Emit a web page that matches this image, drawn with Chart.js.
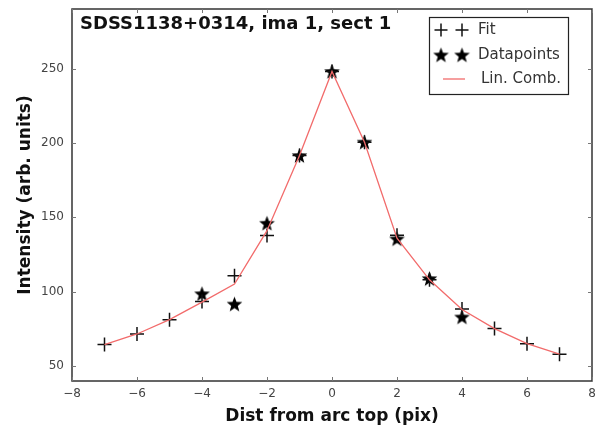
<!DOCTYPE html>
<html>
<head>
<meta charset="utf-8">
<script src="https://cdn.jsdelivr.net/npm/chart.js@4"></script>
<style>
  html, body { margin: 0; padding: 0; background: #fff; }
  #wrap { width: 603px; height: 427px; }
</style>
</head>
<body>
<div id="wrap"><canvas id="chart" width="603" height="427"></canvas></div>
<script>
// values
const title = 'SDSS1138+0314, ima 1, sect 1';
const fitX = [-7, -6, -5, -4, -3, -2, -1, 0, 1, 2, 3, 4, 5, 6, 7];
const fitValues = [64.5, 71.6, 81.2, 93.5, 110.7, 137.8, 191.5, 248, 200.5, 138, 108, 88.4, 75.2, 65.1, 58];
const dataX = [-4, -3, -2, -1, 0, 1, 2, 3, 4];
const dataValues = [98.6, 91.7, 146, 191.5, 248, 200.5, 135.5, 108.8, 83];
const combValues = [64.5, 71.6, 81.2, 93, 105.2, 141, 191.5, 248, 200.5, 136, 108, 88, 75.2, 65.1, 58];
const xTicks = [-8, -6, -4, -2, 0, 2, 4, 6, 8];
const yTicks = [50, 100, 150, 200, 250];
const legendLabels = ['Fit', 'Datapoints', 'Lin. Comb.'];

const lineColor = '#f26b6b';
const font = 'DejaVu Sans';

function pts(xs, ys) {
    return xs.map((x, i) => ({x: x, y: ys[i]}));
}

// filled five point star used as marker
function makeStar(size) {
    const c = document.createElement('canvas');
    c.width = size; c.height = size;
    const g = c.getContext('2d');
    const cx = size / 2, cy = size / 2 + 0.6;
    const ro = size / 2 - 0.3, ri = ro * 0.42;
    g.beginPath();
    for (let i = 0; i < 10; i++) {
        const r = i % 2 ? ri : ro;
        const a = -Math.PI / 2 + i * Math.PI / 5;
        const px = cx + r * Math.cos(a), py = cy + r * Math.sin(a);
        if (i === 0) g.moveTo(px, py); else g.lineTo(px, py);
    }
    g.closePath();
    g.fillStyle = '#000';
    g.fill();
    return c;
}
const star = makeStar(17);

function drawPlus(ctx, x, y, r) {
    ctx.beginPath();
    ctx.moveTo(x - r, y); ctx.lineTo(x + r, y);
    ctx.moveTo(x, y - r); ctx.lineTo(x, y + r);
    ctx.stroke();
}

const framePlugin = {
    id: 'frame',
    afterDraw(chart) {
        const ctx = chart.ctx;
        const a = chart.chartArea;
        const xs = chart.scales.x, ys = chart.scales.y;
        ctx.save();
        ctx.strokeStyle = '#333';
        ctx.lineWidth = 1.5;
        ctx.strokeRect(a.left, a.top, a.right - a.left, a.bottom - a.top);
        ctx.lineWidth = 1;
        ctx.strokeStyle = '#777';
        const t = 4;
        xTicks.forEach(v => {
            const px = Math.round(xs.getPixelForValue(v)) + 0.5;
            ctx.beginPath();
            ctx.moveTo(px, a.bottom); ctx.lineTo(px, a.bottom - t);
            ctx.moveTo(px, a.top); ctx.lineTo(px, a.top + t);
            ctx.stroke();
        });
        yTicks.forEach(v => {
            const py = Math.round(ys.getPixelForValue(v)) + 0.5;
            ctx.beginPath();
            ctx.moveTo(a.left, py); ctx.lineTo(a.left + t, py);
            ctx.moveTo(a.right, py); ctx.lineTo(a.right - t, py);
            ctx.stroke();
        });

        // title inside the axes
        ctx.fillStyle = '#111';
        ctx.font = 'bold 18px "' + font + '"';
        ctx.textBaseline = 'middle';
        ctx.textAlign = 'left';
        ctx.fillText(title, a.left + 8, 24);

        // legend box, upper right
        const bx = 429, by = 17, bw = 139, bh = 77;
        ctx.fillStyle = '#fff';
        ctx.fillRect(bx, by, bw, bh);
        ctx.strokeStyle = '#222';
        ctx.lineWidth = 1.2;
        ctx.strokeRect(bx + 0.5, by + 0.5, bw, bh);
        ctx.font = '15px "' + font + '"';
        ctx.fillStyle = '#333';
        const rows = [by + 13, by + 38, by + 62];
        ctx.strokeStyle = '#111';
        ctx.lineWidth = 1.5;
        drawPlus(ctx, 441, rows[0], 6.5);
        drawPlus(ctx, 462, rows[0], 6.5);
        ctx.drawImage(star, 441 - 8.5, rows[1] - 8.5);
        ctx.drawImage(star, 462 - 8.5, rows[1] - 8.5);
        ctx.strokeStyle = lineColor;
        ctx.lineWidth = 1.3;
        ctx.beginPath();
        ctx.moveTo(443, rows[2]); ctx.lineTo(465, rows[2]);
        ctx.stroke();
        ctx.fillText(legendLabels[0], 478, rows[0]);
        ctx.fillText(legendLabels[1], 478, rows[1]);
        ctx.fillText(legendLabels[2], 481, rows[2]);
        ctx.restore();
    }
};

const ctx = document.getElementById('chart').getContext('2d');
new Chart(ctx, {
    type: 'scatter',
    data: {
        datasets: [
            {
                label: legendLabels[2],
                type: 'line',
                data: pts(fitX, combValues),
                borderColor: lineColor,
                borderWidth: 1.3,
                pointRadius: 0,
                fill: false,
                tension: 0,
                order: 0
            },
            {
                label: legendLabels[0],
                data: pts(fitX, fitValues),
                pointStyle: 'cross',
                pointRadius: 7,
                borderColor: '#111',
                borderWidth: 1.5,
                order: 1
            },
            {
                label: legendLabels[1],
                data: pts(dataX, dataValues),
                pointStyle: star,
                pointRadius: 8,
                order: 2
            }
        ]
    },
    options: {
        responsive: false,
        animation: false,
        events: [],
        layout: {autoPadding: false, padding: {top: 9, right: 11, left: 0, bottom: 0}},
        plugins: {
            legend: {display: false},
            tooltip: {enabled: false}
        },
        scales: {
            x: {
                type: 'linear',
                min: -8,
                max: 8,
                afterBuildTicks: s => { s.ticks = xTicks.map(v => ({value: v})); },
                afterFit: s => { s.height = 46; s.paddingLeft = 0; s.paddingRight = 0; },
                grid: {drawOnChartArea: false, drawTicks: false},
                border: {display: false},
                ticks: {
                    padding: 6,
                    color: '#444',
                    font: {family: font, size: 12},
                    callback: v => String(v).replace('-', '\u2212')
                },
                title: {
                    display: true,
                    text: 'Dist from arc top (pix)',
                    color: '#111',
                    font: {family: font, size: 17, weight: 'bold'},
                    padding: {top: 2, bottom: 0}
                }
            },
            y: {
                type: 'linear',
                min: 40,
                max: 290,
                afterBuildTicks: s => { s.ticks = yTicks.map(v => ({value: v})); },
                afterFit: s => { s.width = 72; s.paddingTop = 0; s.paddingBottom = 0; },
                grid: {drawOnChartArea: false, drawTicks: false},
                border: {display: false},
                ticks: {
                    padding: 8,
                    color: '#444',
                    font: {family: font, size: 12}
                },
                title: {
                    display: true,
                    text: 'Intensity (arb. units)',
                    color: '#111',
                    font: {family: font, size: 17, weight: 'bold'},
                    padding: {top: 15, bottom: 4}
                }
            }
        }
    },
    plugins: [framePlugin]
});
</script>
</body>
</html>
